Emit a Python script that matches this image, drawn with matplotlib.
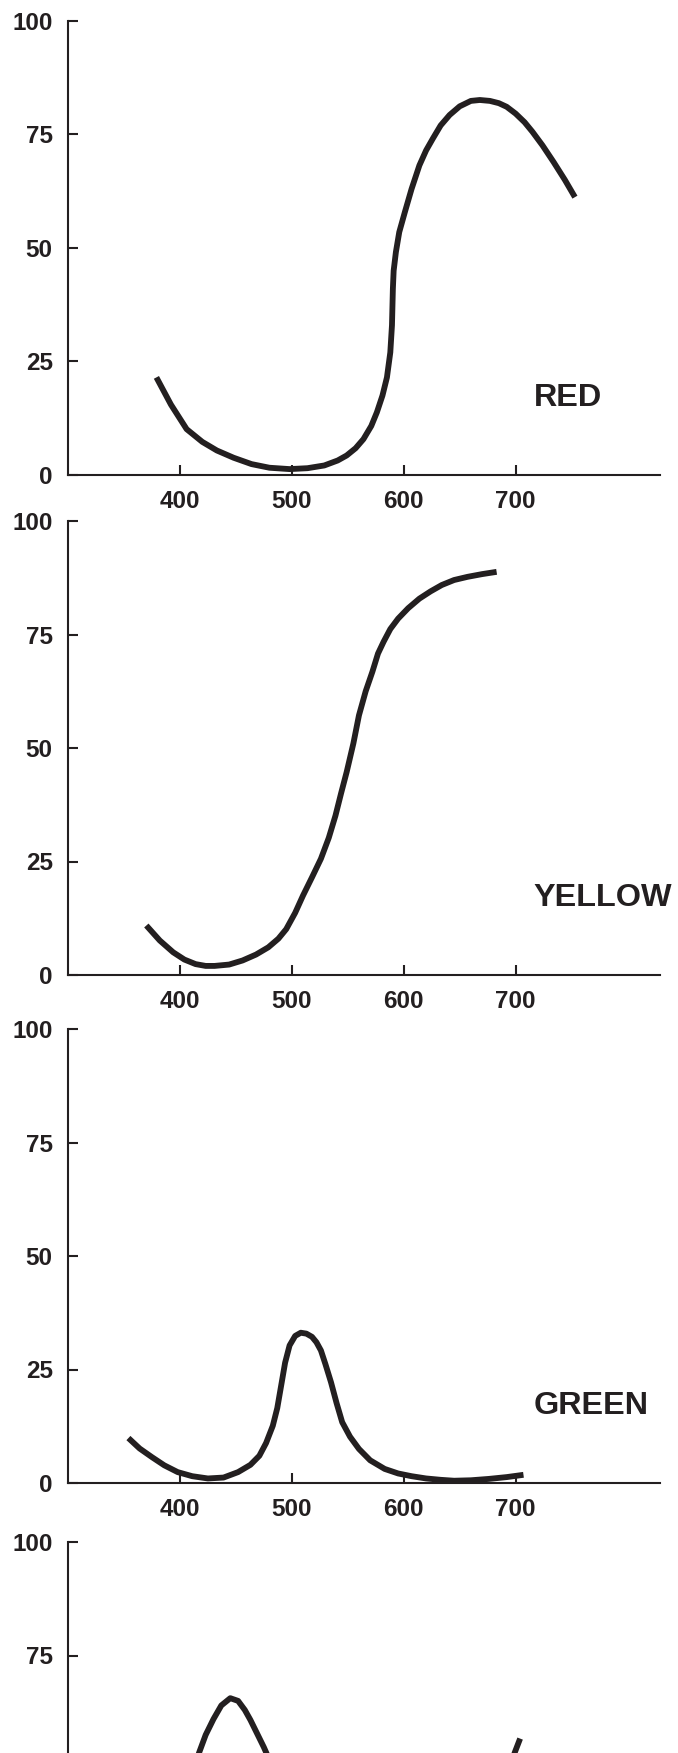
import matplotlib
matplotlib.use("Agg")
import matplotlib.pyplot as plt

# ---- data (wavelength nm, transmission %) ----
red_x = [379, 392, 406, 420, 433, 448, 464, 480, 498, 514, 529, 541, 549, 557, 564, 571, 576,
         581, 585, 588, 589.5, 590.3, 591, 593, 596, 601, 607, 614, 620, 626, 633, 641, 650,
         660, 668, 677, 685, 692, 700, 708, 715, 724, 734, 744, 753]
red_y = [21.5, 15.5, 10.1, 7.3, 5.4, 3.8, 2.4, 1.6, 1.3, 1.5, 2.1, 3.2, 4.3, 5.9, 7.9, 10.8, 13.8,
         17.5, 21.5, 27, 33, 41, 45, 49.1, 53.5, 57.9, 63, 68.2, 71.5, 74.1, 77, 79.3, 81.2,
         82.4, 82.6, 82.4, 81.9, 81.1, 79.6, 77.7, 75.6, 72.6, 68.9, 65.0, 61.2]

yel_x = [370, 382, 394, 404, 414, 423, 431, 444, 456, 468, 479, 488, 495, 503, 510, 518, 526,
         533, 539, 544, 549, 555, 560, 566, 572, 577, 582, 588, 595, 604, 614, 624, 634, 645,
         657, 670, 683]
yel_y = [10.9, 7.6, 5.0, 3.4, 2.4, 2.0, 2.0, 2.3, 3.2, 4.5, 6.1, 8.0, 10.1, 13.7, 17.5, 21.5,
         25.6, 30.2, 35.1, 40.0, 44.7, 51.0, 57.2, 62.5, 66.8, 70.8, 73.4, 76.2, 78.5, 80.8,
         82.9, 84.5, 85.9, 87.0, 87.7, 88.3, 88.8]

grn_x = [354, 364, 375, 386, 398, 411, 425, 439, 452, 463, 471, 477, 483, 487, 491, 494, 498,
         503, 508, 513, 518, 522, 526, 530, 535, 540, 545, 552, 560, 570, 583, 595, 607, 620,
         633, 645, 660, 676, 692, 707]
grn_y = [9.9, 7.6, 5.7, 3.9, 2.4, 1.5, 1.0, 1.2, 2.4, 4.0, 6.0, 8.8, 12.6, 16.5, 22.2, 26.5,
         30.3, 32.4, 33.1, 32.9, 32.2, 31.0, 29.2, 26.2, 22.2, 17.6, 13.4, 10.2, 7.5, 5.0, 3.1,
         2.1, 1.5, 1.0, 0.7, 0.5, 0.6, 0.9, 1.3, 1.8]

blu_x = [385, 398, 409, 417, 423, 430, 437, 445, 452, 458, 463, 469, 475, 480, 490, 500, 515,
         530, 550, 580, 610, 640, 660, 675, 686, 694, 699, 704]
blu_y = [22.0, 34.0, 45.5, 53.5, 57.5, 61.0, 64.0, 65.6, 65.0, 63.0, 60.8, 57.8, 54.8, 52.0,
         44.0, 35.0, 22.0, 12.0, 5.0, 1.5, 1.0, 2.0, 5.0, 12.0, 25.0, 41.0, 53.5, 56.7]

labels = ["RED", "YELLOW", "GREEN", "BLUE"]
series = [(red_x, red_y), (yel_x, yel_y), (grn_x, grn_y), (blu_x, blu_y)]
xticks = [400, 500, 600, 700]
yticks = [0, 25, 50, 75, 100]

INK = "#231f20"
W, H = 678, 1753
fig = plt.figure(figsize=(W / 100, H / 100), dpi=100)
plt.rcParams['font.family'] = ['Liberation Sans', 'DejaVu Sans']

top_px = [21, 521, 1029, 1542]   # pixel row of the 100 tick
span_px = 454
left_px, right_px = 68, 660

for (xs, ys), lab, t in zip(series, labels, top_px):
    bottom = (H - (t + span_px)) / H
    ax = fig.add_axes([left_px / W, bottom, (right_px - left_px) / W, span_px / H])
    ax.plot(xs, ys, color=INK, lw=4.2, solid_capstyle='butt', solid_joinstyle='round')
    ax.set_xlim(300, 829)
    ax.set_ylim(0, 100)
    ax.set_xticks(xticks)
    ax.set_yticks(yticks)
    ax.set_xticklabels([str(v) for v in xticks])
    ax.set_yticklabels([str(v) for v in yticks])
    for s in ['top', 'right']:
        ax.spines[s].set_visible(False)
    for s in ['left', 'bottom']:
        ax.spines[s].set_linewidth(1.5)
        ax.spines[s].set_color(INK)
    ax.tick_params(direction='in', length=7.2, width=1.5, color=INK,
                   labelsize=17.5, labelcolor=INK)
    ax.tick_params(axis='x', pad=11)
    ax.tick_params(axis='y', pad=11)
    for tl in ax.get_xticklabels() + ax.get_yticklabels():
        tl.set_fontweight('bold')
    ax.patch.set_visible(False)

    # texts that would fall below the figure's bottom edge are not shown (cut off in the reference)
    fig_bottom_limit = 0.0
    ax_bottom_px = H - (t + span_px)
    if ax_bottom_px - 40 < 0:
        ax.set_xticklabels([])
        for tl, v in zip(ax.get_yticklabels(), yticks):
            ypx = ax_bottom_px + v / 100 * span_px
            if ypx - 12 < 0:
                tl.set_visible(False)
    label_px = ax_bottom_px + 17 / 100 * span_px
    if label_px - 14 > 0:
        ax.text(716, 17, lab, fontsize=23.3, fontweight='bold', color=INK,
                ha='left', va='center', clip_on=False)

fig.savefig("out.png", dpi=100)
